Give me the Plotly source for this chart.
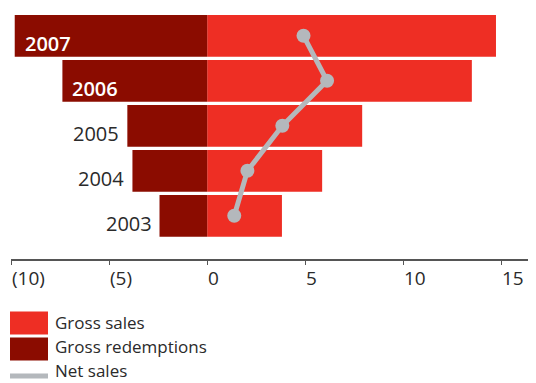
import plotly.graph_objects as go

years = ["2003", "2004", "2005", "2006", "2007"]
gross_sales = [3.81, 5.86, 7.90, 13.49, 14.72]
gross_redemptions = [2.43, 3.81, 4.07, 7.38, 9.81]
net_sales = [1.38, 2.05, 3.83, 6.11, 4.91]
x_tick_vals = [-10, -5, 0, 5, 10, 15]
x_tick_text = ["(10)", "(5)", "0", "5", "10", "15"]

OFF = 8  # page body margin
W, H = 536 - OFF, 383 - OFF
ML, MR, MT, MB = 3, 0, 0, 124
PW, PH = W - ML - MR, H - MT - MB

RED = "#ee2e24"
DARK = "#8b0c00"
GREY = "#b4b8bc"
TXT = "#2a2a2a"
FONT = "Open Sans"

ypos = list(range(len(years)))
neg_red = [-v for v in gross_redemptions]

fig = go.Figure()
fig.add_trace(go.Bar(y=ypos, x=gross_sales, orientation="h", marker_color=RED,
                     marker_line_width=0, width=0.927, name="Gross sales",
                     showlegend=False))
fig.add_trace(go.Bar(y=ypos, x=neg_red, orientation="h", marker_color=DARK,
                     marker_line_width=0, width=0.927, name="Gross redemptions",
                     showlegend=False))
fig.add_trace(go.Scatter(y=ypos, x=net_sales, mode="lines+markers",
                         line=dict(color=GREY, width=5),
                         marker=dict(color=GREY, size=14),
                         name="Net sales", showlegend=False))

annotations = []
# year labels
for yr, yv, r in zip(years, ypos, neg_red):
    inside = -r > 5
    annotations.append(dict(
        x=r, y=yv, xref="x", yref="y", text=yr, showarrow=False,
        xanchor="left" if inside else "right",
        xshift=8 if inside else -6, yshift=-8,
        font=dict(family=FONT, size=20, color="white" if inside else TXT,
                  weight=600 if inside else 400)))
# x tick labels (left-aligned at ticks)
for tv, tt in zip(x_tick_vals, x_tick_text):
    annotations.append(dict(
        x=tv, y=0, xref="x", yref="paper", text=tt, showarrow=False,
        xanchor="left", yanchor="top", xshift=-1, yshift=-4,
        font=dict(family=FONT, size=19, color=TXT)))

def px_x(p):
    return (p - OFF - ML) / PW

def px_y(p):
    return (H - MB - (p - OFF)) / PH

shapes = []
legend_items = [("Gross sales", RED, "rect", 323, 322), ("Gross redemptions", DARK, "rect", 349, 346),
                ("Net sales", GREY, "line", 376, 370)]
for label, col, kind, cy, ty in legend_items:
    if kind == "rect":
        shapes.append(dict(type="rect", xref="paper", yref="paper",
                           x0=px_x(10), x1=px_x(48), y0=px_y(cy - 11.5), y1=px_y(cy + 11.5),
                           fillcolor=col, line_width=0))
    else:
        shapes.append(dict(type="line", xref="paper", yref="paper",
                           x0=px_x(10), x1=px_x(48), y0=px_y(cy), y1=px_y(cy),
                           line=dict(color=col, width=5)))
    annotations.append(dict(x=px_x(54), y=px_y(ty), xref="paper", yref="paper",
                            text=label, showarrow=False, xanchor="left", yanchor="middle",
                            borderpad=0,
                            font=dict(family=FONT, size=17, color=TXT)))

fig.update_layout(
    width=W, height=H, margin=dict(l=ML, r=MR, t=MT, b=MB),
    paper_bgcolor="white", plot_bgcolor="white",
    barmode="relative",
    showlegend=False,
    xaxis=dict(range=[-10, 16.76], tickvals=x_tick_vals, showticklabels=False,
               ticks="outside", ticklen=4, tickcolor="#555", tickwidth=1,
               showline=True, linecolor="#555", linewidth=1.5,
               showgrid=False, zeroline=False, fixedrange=True),
    yaxis=dict(range=[-0.96, (215.8 - OFF) / 45], showticklabels=False, showgrid=False,
               zeroline=False, showline=False, ticks="", fixedrange=True),
    annotations=annotations, shapes=shapes,
)

fig.write_html("out.html")
